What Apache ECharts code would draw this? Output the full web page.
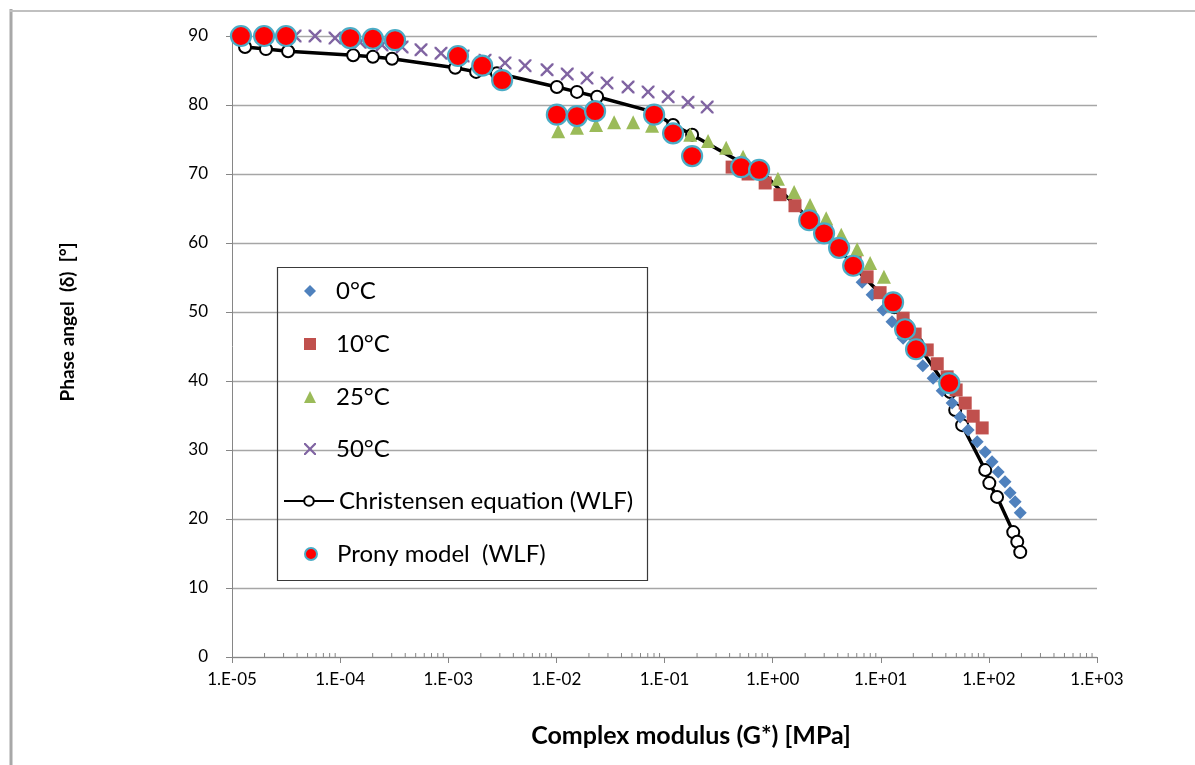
<!DOCTYPE html>
<html>
<head>
<meta charset="utf-8">
<script src="https://cdn.jsdelivr.net/npm/echarts@6/dist/echarts.min.js"></script>
<style>
html,body{margin:0;padding:0;background:#fff;}
#chart{width:1195px;height:765px;}
</style>
</head>
<body>
<div id="chart"></div>
<script>
// ---- data (G* in MPa, phase angle in degrees) ----
const xTickLabels = ['1.E-05','1.E-04','1.E-03','1.E-02','1.E-01','1.E+00','1.E+01','1.E+02','1.E+03'];
const yTickLabels = [0,10,20,30,40,50,60,70,80,90];

const g0C = [6.73,8.32,10.5,12.7,16.1,20.0,24.5,30.5,37.0,45.7,54.2,64.3,78.0,92.5,107,122,141,157,175,195];
const d0C = [54.3,52.5,50.3,48.6,46.2,44.2,42.2,40.4,38.6,36.8,34.8,32.9,31.2,29.7,28.3,26.8,25.4,23.8,22.5,20.9];

const g10C = [0.422,0.593,0.853,1.17,1.61,2.22,3.13,4.21,5.79,7.48,9.86,12.7,16.1,20.8,26.9,33.3,41.1,49.8,60.4,71.6,86.7];
const d10C = [71.0,70.0,68.7,67.0,65.4,63.5,61.6,59.6,57.2,55.1,52.8,51.0,49.1,46.8,44.5,42.5,40.6,38.7,36.8,34.9,33.2];

const g25C = [0.0104,0.0155,0.0233,0.0342,0.0513,0.0767,0.115,0.173,0.253,0.372,0.533,0.766,1.12,1.58,2.22,3.13,4.31,6.05,7.98,10.7];
const d25C = [76.2,76.7,77.1,77.5,77.5,77.0,76.4,75.7,74.8,73.8,72.5,71.2,69.3,67.4,65.5,63.6,61.2,59.1,57.1,55.1];

const g50C = [3.83e-5,5.86e-5,8.97e-5,1.53e-4,2.44e-4,3.74e-4,5.60e-4,8.57e-4,1.37e-3,2.19e-3,3.35e-3,5.13e-3,8.20e-3,0.0126,0.0192,0.0294,0.0460,0.0705,0.108,0.165,0.248];
const d50C = [90.0,90.0,89.7,89.1,88.7,88.4,88.0,87.5,87.1,86.5,86.1,85.7,85.1,84.5,83.9,83.2,82.6,81.9,81.2,80.4,79.7];

const gChr = [1.32e-5,2.06e-5,3.30e-5,1.32e-4,2.01e-4,3.02e-4,1.16e-3,1.81e-3,2.82e-3,0.0101,0.0155,0.0238,0.0785,0.120,0.180,0.522,0.766,2.22,3.06,4.21,5.68,13.3,17.2,21.7,43.9,48.8,56.6,92.5,101,119,168,183,195];
const dChr = [88.4,88.1,87.8,87.2,87.0,86.7,85.4,84.8,84.6,82.6,81.9,81.2,79.0,77.1,75.7,71.6,70.6,63.3,61.3,59.0,56.5,50.7,48.1,45.4,38.4,35.8,33.6,27.1,25.2,23.2,18.1,16.7,15.2];

const gProny = [1.21e-5,1.98e-5,3.16e-5,1.24e-4,2.01e-4,3.22e-4,1.23e-3,2.06e-3,3.15e-3,0.0101,0.0155,0.0228,0.0802,0.120,0.180,0.512,0.750,2.18,2.99,4.12,5.56,13.0,16.8,21.2,43.0];
const dProny = [90.0,90.0,90.0,89.7,89.6,89.4,87.1,85.7,83.6,78.6,78.4,79.1,78.6,75.9,72.6,71.0,70.6,63.3,61.4,59.3,56.7,51.4,47.5,44.6,39.7];

const seriesNames = ['0\u00B0C','10\u00B0C','25\u00B0C','50\u00B0C','Christensen equation (WLF)','Prony model  (WLF)'];

function pairs(g, d){ return g.map((v,i)=>[v,d[i]]); }

// minor tick positions of the log axis (2..9 x 10^k)
const minorTicks = [];
for (let k=-5;k<3;k++){ for (let m=2;m<10;m++){ minorTicks.push([m*Math.pow(10,k),0]); } }

const FONT = 'Lato, "Open Sans", sans-serif';
const crossPath = 'path://M0,0 L2.6,0 L10,7.4 L17.4,0 L20,0 L20,2.6 L12.6,10 L20,17.4 L20,20 L17.4,20 L10,12.6 L2.6,20 L0,20 L0,17.4 L7.4,10 L0,2.6 Z';

// legend rows: one legend component per row
const legendRowsY = [285, 338, 391, 443, 495, 548];
const legends = seriesNames.map(function(name, i){
  const isLine = (i === 4);
  const iw = isLine ? 50 : 12, ih = 12;
  return {
    show:true, orient:'horizontal', selectedMode:false, padding:0,
    left: isLine ? 283 : 304, top: legendRowsY[i] - ih/2,
    itemWidth: iw, itemHeight: ih,
    textStyle:{fontFamily:FONT, fontSize:24, color:'#000', lineHeight:12,
      padding: isLine ? [0,0,0,0] : [0,0,0,15]},
    data:[name]
  };
});

const chart = echarts.init(document.getElementById('chart'), null, {renderer:'canvas'});
const option = {
  backgroundColor:'#ffffff',
  animation:false,
  grid:{left:232, right:98, top:36, bottom:108, containLabel:false},
  xAxis:{
    type:'log', logBase:10, min:1e-5, max:1e3,
    axisLine:{show:true, lineStyle:{color:'#868686', width:1}},
    axisTick:{show:true, inside:false, length:6, lineStyle:{color:'#868686'}},
    minorTick:{show:false},
    splitLine:{show:false},
    axisLabel:{fontFamily:FONT, fontSize:17, color:'#000', margin:14,
      formatter:function(v){ const e=Math.round(Math.log10(v)); return xTickLabels[e+5] || ''; }}
  },
  yAxis:{
    type:'value', min:0, max:90, interval:10,
    axisLine:{show:true, lineStyle:{color:'#868686', width:1}},
    axisTick:{show:true, inside:false, length:6, lineStyle:{color:'#868686'}},
    splitLine:{show:true, lineStyle:{color:'#a6a6a6', width:1.3}},
    axisLabel:{fontFamily:FONT, fontSize:17, color:'#000', margin:24,
      formatter:function(v){ return yTickLabels.indexOf(v)>=0 ? String(v) : ''; }}
  },
  legend: legends,
  graphic:[
    {type:'rect', left:275, top:265, shape:{x:0,y:0,width:370,height:313}, style:{fill:'none', stroke:'#3a3a3a', lineWidth:1.2}, z:100},
    {type:'line', shape:{x1:11, y1:9, x2:11, y2:765}, style:{stroke:'#a8a8a8', lineWidth:3}, z:100},
    {type:'line', shape:{x1:10, y1:11, x2:1195, y2:11}, style:{stroke:'#c0c0c0', lineWidth:2}, z:100},
    {type:'text', x:691, y:736, style:{text:'Complex modulus (G*) [MPa]', fontFamily:FONT, fontSize:25, fontWeight:'bold', fill:'#000', align:'center', verticalAlign:'middle'}, z:100},
    {type:'text', x:68, y:322, rotation:Math.PI/2, style:{text:'Phase angel  (\u03B4)  [\u00B0]', fontFamily:FONT, fontSize:19, fontWeight:'bold', fill:'#000', align:'center', verticalAlign:'middle'}, z:100}
  ],
  series:[
    {name:seriesNames[0], type:'scatter', data:pairs(g0C,d0C), symbol:'diamond', symbolSize:13,
      itemStyle:{color:'#4f81bd', opacity:1}, z:3},
    {name:seriesNames[1], type:'scatter', data:pairs(g10C,d10C), symbol:'rect', symbolSize:13,
      itemStyle:{color:'#c0504d', opacity:1}, z:3},
    {name:seriesNames[2], type:'scatter', data:pairs(g25C,d25C), symbol:'triangle', symbolSize:14,
      itemStyle:{color:'#9bbb59', opacity:1}, z:3},
    {name:seriesNames[3], type:'scatter', data:pairs(g50C,d50C), symbol:crossPath, symbolSize:13,
      itemStyle:{color:'#8064a2', opacity:1}, z:3},
    {name:seriesNames[4], type:'line', data:pairs(gChr,dChr), symbol:'emptyCircle', symbolSize:12,
      showAllSymbol:true,
      lineStyle:{color:'#000', width:3.5}, itemStyle:{color:'#000', borderColor:'#000', borderWidth:1.8},
      z:2},
    {name:seriesNames[5], type:'scatter', data:pairs(gProny,dProny), symbol:'circle', symbolSize:20,
      itemStyle:{color:'#ff0000', borderColor:'#4bacc6', borderWidth:2.2, opacity:1}, z:4},
    {name:'minorTicks', type:'custom', data:minorTicks, silent:true, z:1,
      renderItem:function(params, api){
        const p = api.coord([api.value(0), 0]);
        return {type:'line', shape:{x1:p[0], y1:p[1], x2:p[0], y2:p[1]-4},
          style:{stroke:'#868686', lineWidth:1}};
      }}
  ]
};
chart.setOption(option);
</script>
</body>
</html>
